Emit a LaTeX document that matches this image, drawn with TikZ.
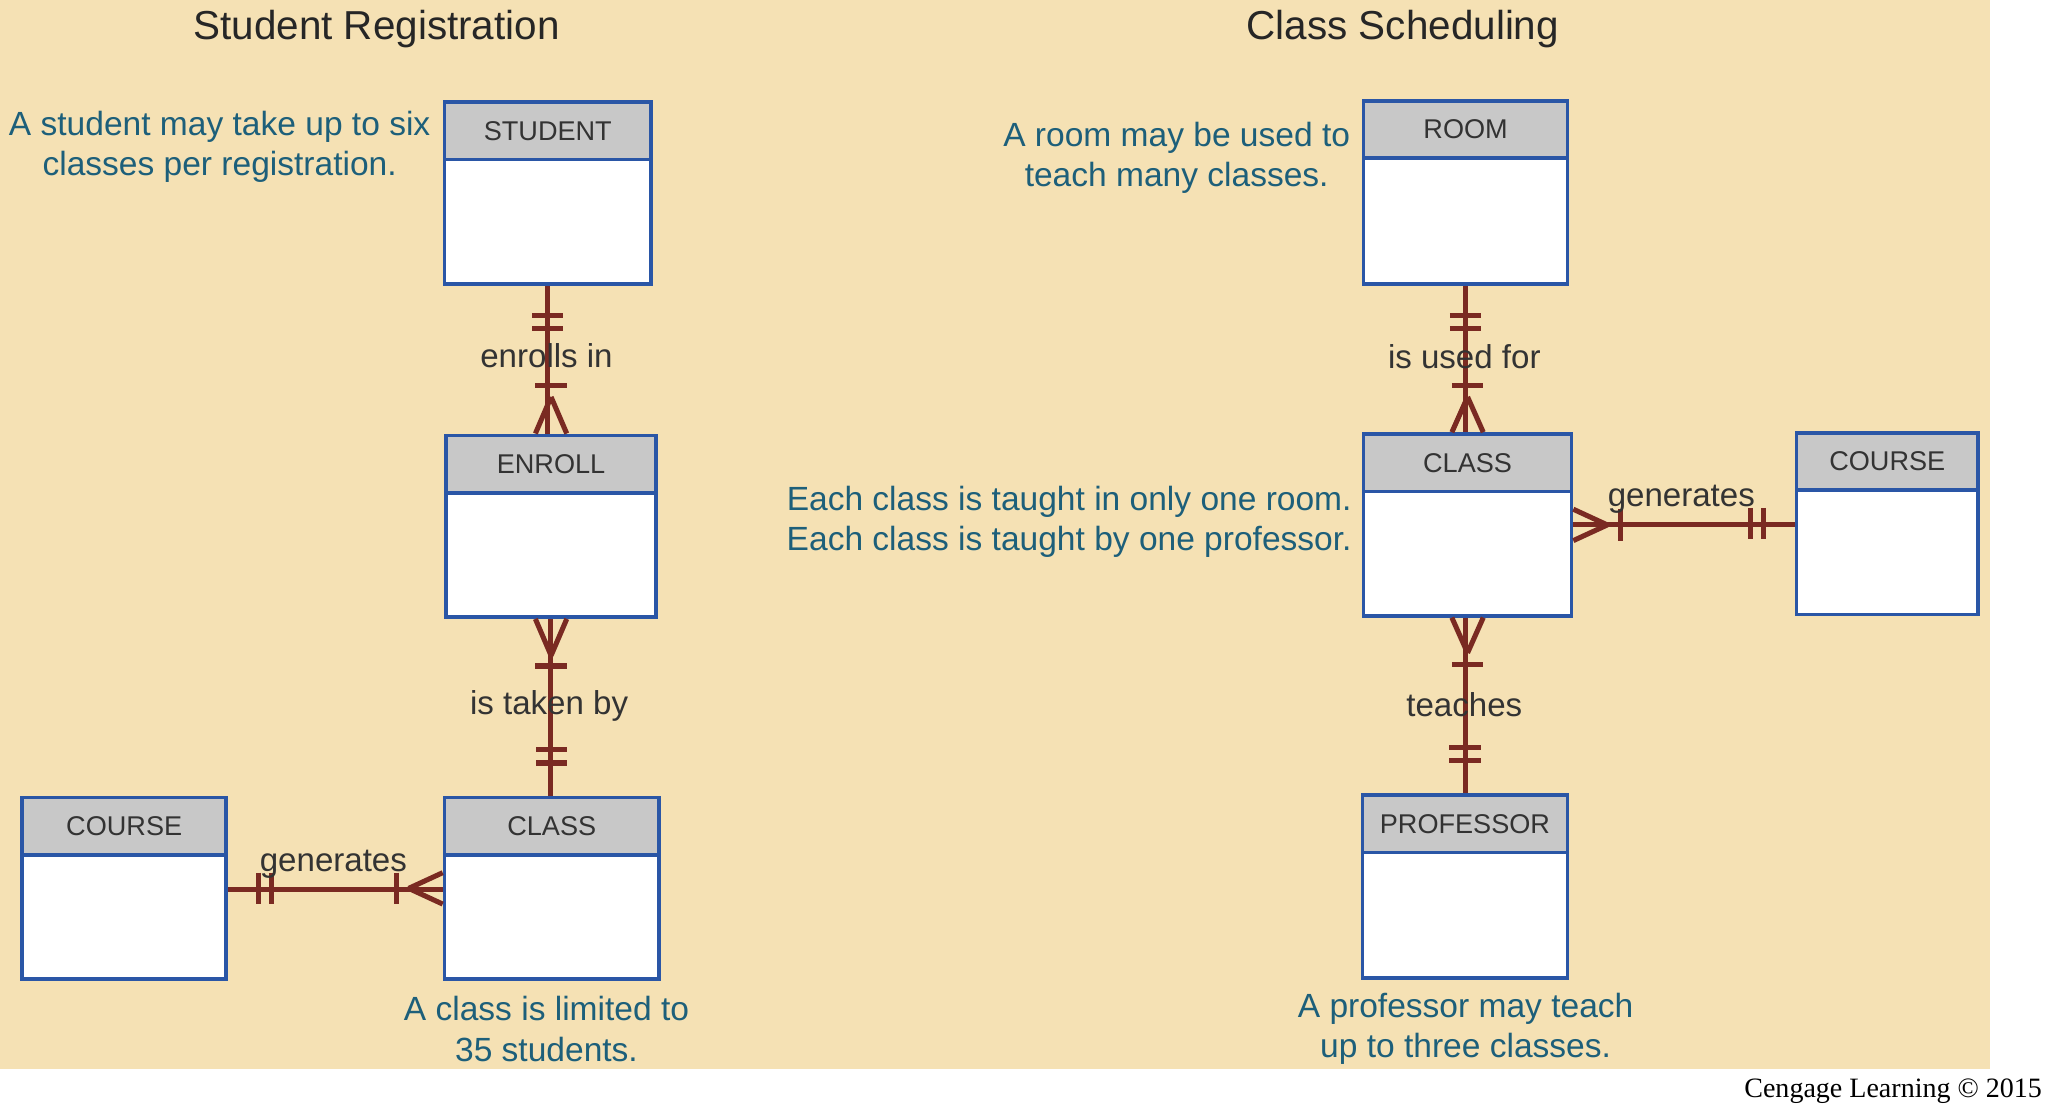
\documentclass[tikz,border=0pt]{standalone}
\usepackage{fontspec}
\setmainfont{Liberation Sans}
\newfontfamily\serifcredit{Liberation Serif}
\usetikzlibrary{calc}
\definecolor{paper}{HTML}{F5E1B4}
\definecolor{boxblue}{HTML}{2A56A6}
\definecolor{headgray}{HTML}{C8C8C8}
\definecolor{relred}{HTML}{7A2A22}
\definecolor{notecol}{HTML}{1D5F7A}
\tikzset{
  entity/.style 2 args={draw=boxblue, line width=1.6pt, fill=white,
    minimum width=#1, minimum height=#2, inner sep=0pt},
  head/.style={draw=boxblue, line width=1.6pt, fill=headgray, text=black!80,
    minimum height=0.88cm, anchor=north, font=\fontsize{11.8}{13}\selectfont},
  rel/.style={draw=relred, line width=2.2pt},
  note/.style={text=notecol, align=center, font=\fontsize{14.6}{17.5}\selectfont},
  rlabel/.style={text=black!80, font=\fontsize{14.4}{16}\selectfont},
  title/.style={text=black!85, font=\fontsize{17.6}{20}\selectfont}
}
\begin{document}
\begin{tikzpicture}[x=0.02cm,y=-0.02cm]
\useasboundingbox (0,0) rectangle (1568,848);
\fill[paper] (0,0) rectangle (1522,818);

% titles
\node[title] (t1) at (288,22) {Student Registration};
\node[title] (t2) at (1073,22) {Class Scheduling};

% relationship lines (drawn first)
\coordinate (a1) at (419,217); \coordinate (a2) at (419,333);
\coordinate (b1) at (421,472); \coordinate (b2) at (421,610);
\coordinate (c1) at (173,680); \coordinate (c2) at (340,680);
\coordinate (d1) at (1121,217); \coordinate (d2) at (1121,332);
\coordinate (e1) at (1202,401); \coordinate (e2) at (1374,401);
\coordinate (f1) at (1121,471); \coordinate (f2) at (1121,608);
\draw[rel] (a1) -- (a2);
\draw[rel] (b1) -- (b2);
\draw[rel] (c1) -- (c2);
\draw[rel] (d1) -- (d2);
\draw[rel] (e1) -- (e2);
\draw[rel] (f1) -- (f2);

% entities, left
\node[entity={3.16cm}{2.78cm}] (student) at (419,147.5) {};
\node[head, minimum width=3.16cm] (studentHead) at (student.north) {STUDENT};
\node[entity={3.22cm}{2.78cm}] (enroll) at (421.5,402.5) {};
\node[head, minimum width=3.22cm] (enrollHead) at (enroll.north) {ENROLL};
\node[entity={3.28cm}{2.78cm}] (classL) at (422,679.5) {};
\node[head, minimum width=3.28cm] (classLHead) at (classL.north) {CLASS};
\node[entity={3.12cm}{2.78cm}] (courseL) at (95,679.5) {};
\node[head, minimum width=3.12cm] (courseLHead) at (courseL.north) {COURSE};

% entities, right
\node[entity={3.12cm}{2.80cm}] (room) at (1121,147) {};
\node[head, minimum width=3.12cm] (roomHead) at (room.north) {ROOM};
\node[entity={3.18cm}{2.78cm}] (classR) at (1122.5,401.5) {};
\node[head, minimum width=3.18cm] (classRHead) at (classR.north) {CLASS};
\node[entity={2.78cm}{2.78cm}] (courseR) at (1443.5,400.5) {};
\node[head, minimum width=2.78cm] (courseRHead) at (courseR.north) {COURSE};
\node[entity={3.14cm}{2.80cm}] (prof) at (1120.5,678) {};
\node[head, minimum width=3.14cm] (profHead) at (prof.north) {PROFESSOR};

% student -- enroll
\draw[rel] ($(student.south)+(-12,23)$) -- +(24,0);
\draw[rel] ($(student.south)+(-12,33)$) -- +(24,0);
\draw[rel] ($(enroll.north)+(-12,-37)$) -- +(24,0);
\draw[rel] ($(enroll.north)+(0,-28)$) -- ($(enroll.north)+(-12,0)$);
\draw[rel] ($(enroll.north)+(0,-28)$) -- ($(enroll.north)+(12,0)$);
% enroll -- class
\draw[rel] ($(enroll.south)+(0,28)$) -- ($(enroll.south)+(-12,0)$);
\draw[rel] ($(enroll.south)+(0,28)$) -- ($(enroll.south)+(12,0)$);
\draw[rel] ($(enroll.south)+(-12,36)$) -- +(24,0);
\draw[rel] ($(classL.north)+(-12,-35)$) -- +(24,0);
\draw[rel] ($(classL.north)+(-12,-25)$) -- +(24,0);
% course -- class (left)
\draw[rel] ($(courseL.east)+(23,-12)$) -- +(0,24);
\draw[rel] ($(courseL.east)+(33,-12)$) -- +(0,24);
\draw[rel] ($(classL.west)+(-35,-12)$) -- +(0,24);
\draw[rel] ($(classL.west)+(-26,0)$) -- ($(classL.west)+(0,-12)$);
\draw[rel] ($(classL.west)+(-26,0)$) -- ($(classL.west)+(0,12)$);
% room -- class
\draw[rel] ($(room.south)+(-12,23)$) -- +(24,0);
\draw[rel] ($(room.south)+(-12,33)$) -- +(24,0);
\draw[rel] ($(classR.north)+(-12,-36)$) -- +(24,0);
\draw[rel] ($(classR.north)+(0,-27)$) -- ($(classR.north)+(-12,0)$);
\draw[rel] ($(classR.north)+(0,-27)$) -- ($(classR.north)+(12,0)$);
% class -- course (right)
\draw[rel] ($(classR.east)+(26,0)$) -- ($(classR.east)+(0,-12)$);
\draw[rel] ($(classR.east)+(26,0)$) -- ($(classR.east)+(0,12)$);
\draw[rel] ($(classR.east)+(36,-12)$) -- +(0,24);
\draw[rel] ($(courseR.west)+(-34,-12)$) -- +(0,24);
\draw[rel] ($(courseR.west)+(-24,-12)$) -- +(0,24);
% class -- professor
\draw[rel] ($(classR.south)+(0,27)$) -- ($(classR.south)+(-12,0)$);
\draw[rel] ($(classR.south)+(0,27)$) -- ($(classR.south)+(12,0)$);
\draw[rel] ($(classR.south)+(-12,36)$) -- +(24,0);
\draw[rel] ($(prof.north)+(-12,-35)$) -- +(24,0);
\draw[rel] ($(prof.north)+(-12,-25)$) -- +(24,0);

% relationship labels
\node[rlabel] (l1) at (418,272) {enrolls in};
\node[rlabel] (l2) at (420,540) {is taken by};
\node[rlabel] (l3) at (255,661) {generates};
\node[rlabel] (l4) at (1120,273) {is used for};
\node[rlabel] (l5) at (1286,382) {generates};
\node[rlabel] (l6) at (1120,539) {teaches};

% notes
\node[note] (n1) at (168,112) {A student may take up to six\\classes per registration.};
\node[note] (n2) at (900,121) {A room may be used to\\teach many classes.};
\node[note, align=right, anchor=east] (n3) at (1040,399) {Each class is taught in only one room.\\Each class is taught by one professor.};
\node[note] (n4) at (418,787) {A class is limited to\\35 students.};
\node[note] (n5) at (1121,787) {A professor may teach\\up to three classes.};

\node[font=\serifcredit\fontsize{12.2}{14}\selectfont, anchor=east] (credit) at (1568,835) {Cengage Learning © 2015};
\end{tikzpicture}
\end{document}
